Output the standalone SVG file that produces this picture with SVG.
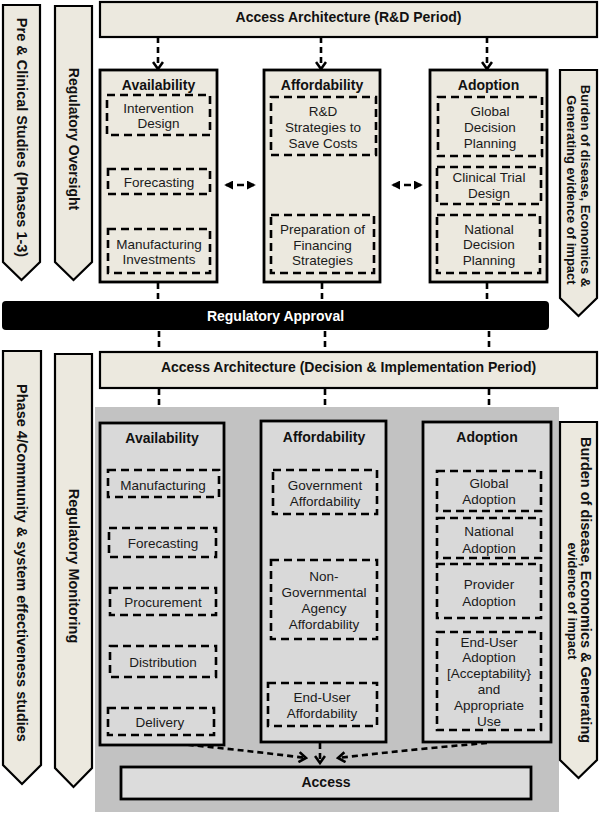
<svg xmlns="http://www.w3.org/2000/svg" width="600" height="815" viewBox="0 0 600 815">
<defs>
<style>
text { font-family: "Liberation Sans", Arial, Helvetica, sans-serif; fill: #111; }
.t { font-size: 13.5px; text-anchor: middle; fill: #1a1a1a; }
.b { font-weight: bold; font-size: 14px; text-anchor: middle; }
.v { font-weight: bold; font-size: 14.5px; text-anchor: middle; }
.beige { fill: #ECE9DF; stroke: #000; stroke-width: 2.2; }
.col { stroke: #000; stroke-width: 2.8; }
.top { fill: #ECE9DF; }
.bot { fill: #D9D9D9; }
.dash { fill: none; stroke: #000; stroke-width: 2.6; stroke-dasharray: 8 5; }
.conn { fill: none; stroke: #000; stroke-width: 2.6; stroke-dasharray: 6 4; }
</style>
<marker id="chev" viewBox="0 0 12 12" refX="10" refY="6" markerWidth="12" markerHeight="12" markerUnits="userSpaceOnUse" orient="auto">
<path d="M3,1 L10,6 L3,11" fill="none" stroke="#000" stroke-width="2.6"/>
</marker>
<marker id="tri" viewBox="0 0 10 10" refX="8" refY="5" markerWidth="9" markerHeight="9" markerUnits="userSpaceOnUse" orient="auto-start-reverse">
<path d="M0,0 L10,5 L0,10 z" fill="#000"/>
</marker>
</defs>

<!-- gray background of implementation section -->
<rect id="implementation-bg" x="95" y="407" width="464" height="405" fill="#C2C2C2"/>

<!-- left side vertical arrows -->
<g id="pre-clinical">
<polygon class="beige" points="3,5 40,5 40,262 21.5,280 3,262"/>
<text class="v" transform="translate(22,137.5) rotate(90)" x="0" y="5">Pre &amp; Clinical Studies (Phases 1-3)</text>
</g>
<g id="regulatory-oversight">
<polygon class="beige" points="55,6 92,6 92,262 73.5,280 55,262"/>
<text class="b" transform="translate(73.5,139) rotate(90)" x="0" y="5">Regulatory Oversight</text>
</g>
<g id="phase4">
<polygon class="beige" points="3,351 41,351 41,765 22,784 3,765"/>
<text class="v" transform="translate(22,563) rotate(90)" x="0" y="5">Phase 4/Community &amp; system effectiveness studies</text>
</g>
<g id="regulatory-monitoring">
<polygon class="beige" points="55,354 92,354 92,768 73.5,787 55,768"/>
<text class="v" transform="translate(73.5,566) rotate(90)" x="0" y="5">Regulatory Monitoring</text>
</g>

<!-- right side vertical arrows -->
<g id="burden-top">
<polygon class="beige" points="560,70 597,70 597,298 578.5,316 560,298"/>
<text class="b" style="font-size:13px" transform="translate(585,186) rotate(90)" x="0" y="4.5">Burden of disease, Economics &amp;</text>
<text class="b" style="font-size:13px" transform="translate(571,190) rotate(90)" x="0" y="4.5">Generating evidence of impact</text>
</g>
<g id="burden-bottom">
<polygon class="beige" points="560,422 597,422 597,760 578.5,778 560,760"/>
<text class="v" transform="translate(586,590) rotate(90)" x="0" y="5">Burden of disease, Economics &amp; Generating</text>
<text class="b" style="font-size:13px" transform="translate(572,601) rotate(90)" x="0" y="4.5">evidence of impact</text>
</g>

<!-- top header -->
<g id="access-architecture-rd">
<rect class="beige" x="100" y="2" width="497" height="35"/>
<text class="b" x="348.5" y="22">Access Architecture (R&amp;D Period)</text>
</g>

<!-- connectors -->
<g id="connectors">
<path class="conn" d="M158,37 L158,69" marker-end="url(#chev)"/>
<path class="conn" d="M321,37 L321,69" marker-end="url(#chev)"/>
<path class="conn" d="M487,37 L487,69" marker-end="url(#chev)"/>
<path class="conn" d="M226,185 L254,185" style="stroke-dasharray:7 4" marker-start="url(#tri)" marker-end="url(#tri)"/>
<path class="conn" d="M393,185 L421,185" style="stroke-dasharray:7 4" marker-start="url(#tri)" marker-end="url(#tri)"/>
<path class="conn" d="M158,283 L158,301"/>
<path class="conn" d="M322,283 L322,301"/>
<path class="conn" d="M487,283 L487,301"/>
<path class="conn" d="M159,331 L159,352"/>
<path class="conn" d="M325,331 L325,352"/>
<path class="conn" d="M489,331 L489,352"/>
<path class="conn" d="M159,389 L159,405"/>
<path class="conn" d="M325,389 L325,405"/>
<path class="conn" d="M489,389 L489,405"/>
<path class="conn" d="M168,743 Q235,749 306,758" marker-end="url(#chev)"/>
<path class="conn" d="M320,743 L320,763" marker-end="url(#chev)"/>
<path class="conn" d="M487,743 Q415,749 338,758" marker-end="url(#chev)"/>
</g>

<!-- top columns -->
<g id="availability-rd">
<rect class="col top" x="100" y="70" width="117" height="212"/>
<text class="b" x="158.5" y="90">Availability</text>
<rect class="dash" x="107" y="95" width="103" height="40"/>
<text class="t" x="158.5" y="112.5">Intervention</text>
<text class="t" x="158.5" y="127.5">Design</text>
<rect class="dash" x="108" y="169" width="102" height="25"/>
<text class="t" x="159" y="186.5">Forecasting</text>
<rect class="dash" x="108" y="229" width="102" height="44"/>
<text class="t" x="159" y="248.5">Manufacturing</text>
<text class="t" x="159" y="263.5">Investments</text>
</g>
<g id="affordability-rd">
<rect class="col top" x="264" y="70" width="116" height="212"/>
<text class="b" x="322" y="90">Affordability</text>
<rect class="dash" x="271" y="97" width="105" height="58"/>
<text class="t" x="323" y="116">R&amp;D</text>
<text class="t" x="323" y="131.5">Strategies to</text>
<text class="t" x="323" y="147.5">Save Costs</text>
<rect class="dash" x="271" y="215" width="103" height="58"/>
<text class="t" x="322.5" y="233.5">Preparation of</text>
<text class="t" x="322.5" y="249.5">Financing</text>
<text class="t" x="322.5" y="264.5">Strategies</text>
</g>
<g id="adoption-rd">
<rect class="col top" x="430" y="70" width="117" height="212"/>
<text class="b" x="488.5" y="90">Adoption</text>
<rect class="dash" x="438" y="97" width="104" height="59"/>
<text class="t" x="490" y="115.5">Global</text>
<text class="t" x="490" y="131.5">Decision</text>
<text class="t" x="490" y="147.5">Planning</text>
<rect class="dash" x="437" y="167" width="104" height="37"/>
<text class="t" x="489" y="181.5">Clinical Trial</text>
<text class="t" x="489" y="197.5">Design</text>
<rect class="dash" x="437" y="215" width="103" height="58"/>
<text class="t" x="489" y="233.5">National</text>
<text class="t" x="489" y="248.5">Decision</text>
<text class="t" x="489" y="264.5">Planning</text>
</g>

<!-- regulatory approval bar -->
<g id="regulatory-approval">
<rect x="2" y="301" width="547" height="29" rx="4" fill="#000"/>
<text class="b" x="275.5" y="321" style="fill:#fff">Regulatory Approval</text>
</g>

<g id="access-architecture-impl">
<rect class="beige" x="100" y="352" width="497" height="36"/>
<text class="b" x="348.5" y="372">Access Architecture (Decision &amp; Implementation Period)</text>
</g>

<!-- bottom columns -->
<g id="availability-impl">
<rect class="col bot" x="100" y="423" width="124" height="322"/>
<text class="b" x="162" y="443">Availability</text>
<rect class="dash" x="108" y="470" width="111" height="27"/>
<text class="t" x="163" y="489.5">Manufacturing</text>
<rect class="dash" x="109" y="528" width="107" height="29"/>
<text class="t" x="163" y="547.5">Forecasting</text>
<rect class="dash" x="110" y="588" width="106" height="27"/>
<text class="t" x="163" y="606.5">Procurement</text>
<rect class="dash" x="110" y="646" width="106" height="31"/>
<text class="t" x="163" y="666.5">Distribution</text>
<rect class="dash" x="108" y="708" width="106" height="27"/>
<text class="t" x="160" y="726.5">Delivery</text>
</g>
<g id="affordability-impl">
<rect class="col bot" x="261" y="421" width="125" height="321"/>
<text class="b" x="324" y="442">Affordability</text>
<rect class="dash" x="273" y="470" width="104" height="44"/>
<text class="t" x="325" y="490">Government</text>
<text class="t" x="325" y="505.5">Affordability</text>
<rect class="dash" x="271" y="560" width="106" height="79"/>
<text class="t" x="324" y="580.5">Non-</text>
<text class="t" x="324" y="596.5">Governmental</text>
<text class="t" x="324" y="612.5">Agency</text>
<text class="t" x="324" y="628.5">Affordability</text>
<rect class="dash" x="268" y="683" width="109" height="43"/>
<text class="t" x="322" y="701.5">End-User</text>
<text class="t" x="322" y="717.5">Affordability</text>
</g>
<g id="adoption-impl">
<rect class="col bot" x="423" y="422" width="128" height="320"/>
<text class="b" x="487" y="442">Adoption</text>
<rect class="dash" x="437" y="471" width="104" height="40"/>
<text class="t" x="489" y="487.5">Global</text>
<text class="t" x="489" y="503.5">Adoption</text>
<rect class="dash" x="437" y="518" width="104" height="40"/>
<text class="t" x="489" y="536">National</text>
<text class="t" x="489" y="552.5">Adoption</text>
<rect class="dash" x="437" y="564" width="104" height="54"/>
<text class="t" x="489" y="588.5">Provider</text>
<text class="t" x="489" y="605.5">Adoption</text>
<rect class="dash" x="437" y="632" width="104" height="98"/>
<text class="t" x="489" y="646.5">End-User</text>
<text class="t" x="489" y="662">Adoption</text>
<text class="t" x="489" y="677.5">[Acceptability}</text>
<text class="t" x="489" y="693.5">and</text>
<text class="t" x="489" y="709.5">Appropriate</text>
<text class="t" x="489" y="725.5">Use</text>
</g>

<g id="access">
<rect class="col" x="121" y="767" width="410" height="32" fill="#DCDCDC"/>
<text class="b" x="326" y="787">Access</text>
</g>
</svg>
